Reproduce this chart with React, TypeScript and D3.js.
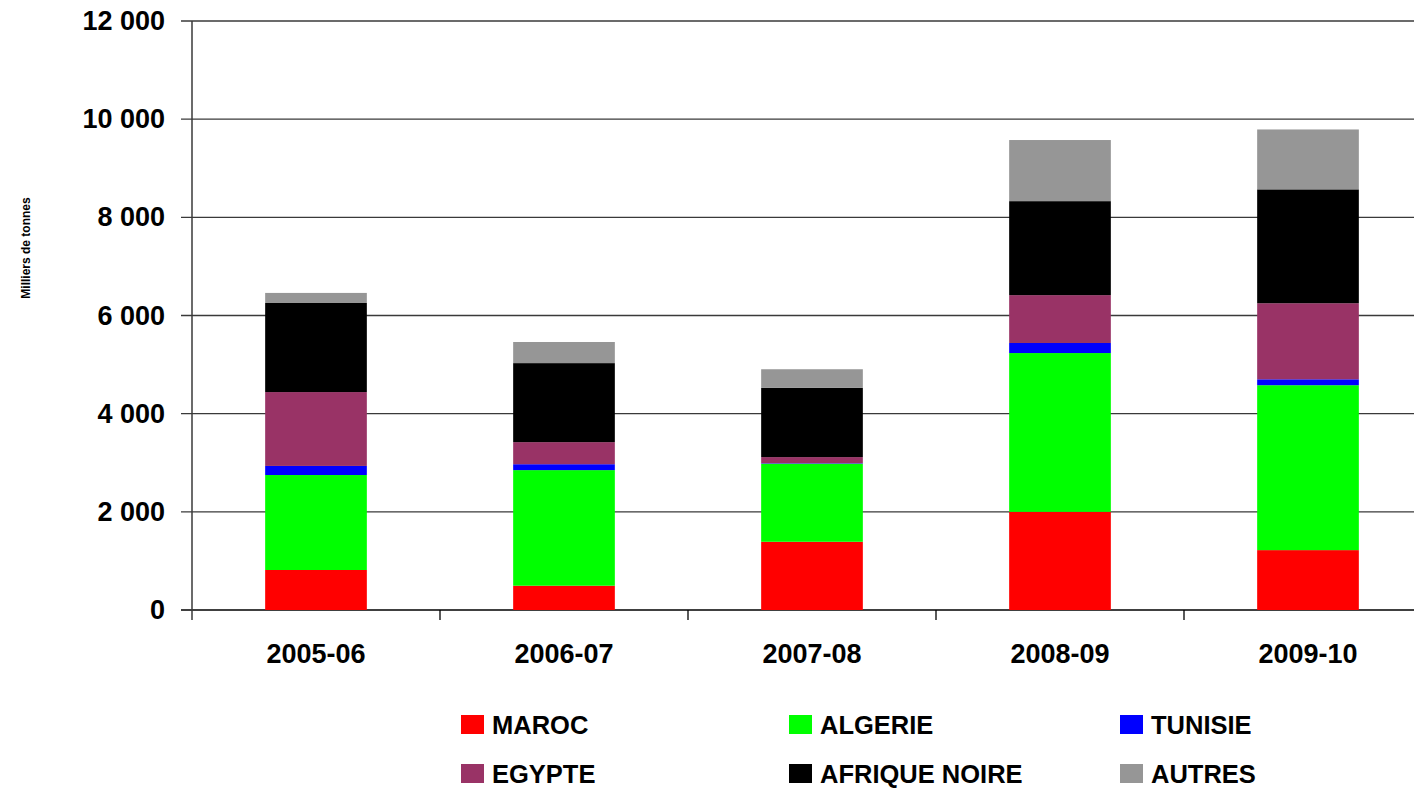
import * as d3 from 'd3'

const YEARS = ['2005-06', '2006-07', '2007-08', '2008-09', '2009-10']
const SERIES = ['MAROC', 'ALGERIE', 'TUNISIE', 'EGYPTE', 'AFRIQUE NOIRE', 'AUTRES']
const COLORS = ['#ff0000', '#00ff00', '#0000ff', '#993366', '#000000', '#969696']

// thousands of tonnes
const MAROC = [815, 495, 1390, 2000, 1220]
const ALGERIE = [1935, 2355, 1590, 3235, 3360]
const TUNISIE = [185, 120, 10, 205, 120]
const EGYPTE = [1505, 450, 125, 975, 1550]
const AFRIQUE_NOIRE = [1815, 1610, 1410, 1915, 2320]
const AUTRES = [205, 430, 380, 1245, 1220]

const Y_TICKS = [0, 2000, 4000, 6000, 8000, 10000, 12000]

const W = 1414
const H = 788
const LEFT = 192
const STEP = 248
const BOTTOM = 610
const TOP = 21

const FONT = 'Liberation Sans, Arial, sans-serif'

export default function App() {
  const values = [MAROC, ALGERIE, TUNISIE, EGYPTE, AFRIQUE_NOIRE, AUTRES]
  const rows = YEARS.map((year, i) => {
    const r: Record<string, any> = { year }
    SERIES.forEach((s, j) => { r[s] = values[j][i] })
    return r
  })
  const stacked = d3.stack<any>().keys(SERIES)(rows)

  const x = d3.scaleBand()
    .domain(YEARS)
    .range([LEFT, LEFT + STEP * YEARS.length])
    .paddingInner(0.59)
    .paddingOuter(0.295)
  const y = d3.scaleLinear().domain([0, 12000]).range([BOTTOM, TOP])
  const fmt = (v: number) => d3.format(',')(v).replace(',', ' ')

  // legend grid: 3 columns, 2 rows
  const legendCols = [461, 789, 1120]
  const legendRows = [715, 764]

  return (
    <svg width={W} height={H} style={{ position: 'absolute', left: 0, top: 0, background: '#fff' }}
      fontFamily={FONT}>
      {/* gridlines */}
      {Y_TICKS.map(t => (
        <g key={t}>
          <line x1={LEFT - 11} x2={W} y1={y(t)} y2={y(t)}
            stroke={t === 0 ? '#000' : '#3a3a3a'} strokeWidth={t === 0 ? 1.5 : 1.3} />
          <text x={165} y={y(t)} textAnchor="end" dominantBaseline="central"
            fontSize={27} fontWeight="bold">{fmt(t)}</text>
        </g>
      ))}

      {/* bars */}
      {stacked.map((layer, j) => (
        <g key={layer.key} fill={COLORS[j]}>
          {layer.map((d, i) => (
            <rect key={i} x={x(YEARS[i])} width={x.bandwidth()}
              y={y(d[1])} height={Math.max(0, y(d[0]) - y(d[1]))} />
          ))}
        </g>
      ))}

      {/* axes */}
      <line x1={LEFT} x2={LEFT} y1={TOP} y2={BOTTOM + 10} stroke="#3a3a3a" strokeWidth={1.5} />
      {d3.range(1, YEARS.length + 1).map(i => (
        <line key={i} x1={LEFT + STEP * i} x2={LEFT + STEP * i} y1={BOTTOM} y2={BOTTOM + 10}
          stroke="#000" strokeWidth={1.3} />
      ))}
      {YEARS.map(yr => (
        <text key={yr} x={(x(yr) ?? 0) + x.bandwidth() / 2} y={654} textAnchor="middle"
          dominantBaseline="central" fontSize={27} fontWeight="bold">{yr}</text>
      ))}

      <text transform="translate(26,248) rotate(-90)" textAnchor="middle" dominantBaseline="central"
        fontSize={12} fontWeight="bold">Milliers de tonnes</text>

      {/* legend */}
      {SERIES.map((s, j) => {
        const lx = legendCols[j % 3]
        const ly = legendRows[Math.floor(j / 3)]
        return (
          <g key={s}>
            <rect x={lx} y={ly} width={23} height={19} fill={COLORS[j]} />
            <text x={lx + 31} y={ly + 19} fontSize={25.5} fontWeight="bold">{s}</text>
          </g>
        )
      })}
    </svg>
  )
}
